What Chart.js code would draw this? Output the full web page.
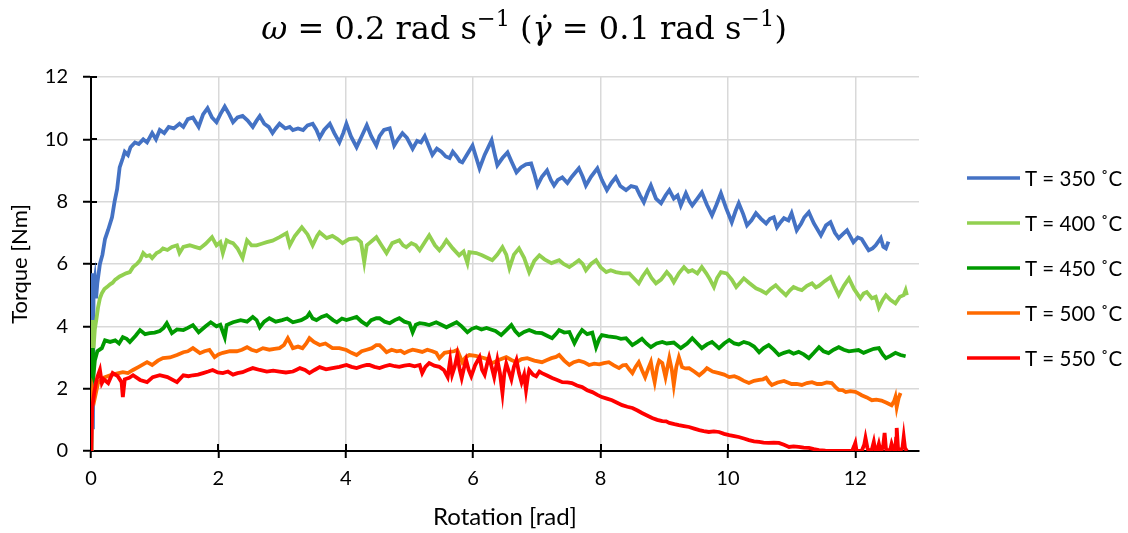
<!DOCTYPE html>
<html>
<head>
<meta charset="utf-8">
<script src="https://cdn.jsdelivr.net/npm/chart.js@4.4.1/dist/chart.umd.min.js"></script>
<style>
    body { margin: 0; background: #fff; }
    #caixa { position: relative; width: 1128px; height: 533px; }
    #titulo {
        position: absolute; left: -40px; top: 9px; width: 1128px;
        text-align: center; font-family: "DejaVu Serif", serif; font-size: 32px; color: #000;
    }
    #titulo sup { font-size: 0.7em; vertical-align: 0.6em; line-height: 0; }
</style>
</head>
<body>
<div id="caixa">
    <canvas id="graficoTorque" width="1128" height="533"></canvas>
    <div id="titulo"><i>ω</i> = 0.2 rad s<sup>−1</sup> (<i>γ̇</i> = 0.1 rad s<sup>−1</sup>)</div>
</div>
<script>
// Torque [Nm] x rotação [rad], um ensaio por temperatura
const temperaturas = [350, 400, 450, 500, 550];
const cores = ['#4472C4', '#92D050', '#009A00', '#FF6A00', '#FF0000'];

const torque350 = [
    [0,0],[0.01,3.0],[0.02,5.7],[0.03,0.7],[0.04,5.2],[0.06,5.5],[0.08,4.9],[0.10,5.4],[0.14,6.0],[0.18,6.3],
    [0.22,6.8],[0.27,7.1],[0.33,7.5],[0.37,8.0],[0.41,8.4],[0.45,9.1],[0.50,9.4],[0.53,9.6],[0.58,9.5],[0.62,9.75],
    [0.69,9.9],[0.75,9.85],[0.82,10.0],[0.88,9.9],[0.96,10.2],[1.02,10.0],[1.08,10.3],[1.15,10.2],[1.22,10.4],[1.30,10.35],
    [1.39,10.5],[1.45,10.4],[1.52,10.65],[1.60,10.7],[1.69,10.4],[1.76,10.8],[1.83,11.0],[1.90,10.7],[1.97,10.55],[2.03,10.8],
    [2.10,11.05],[2.17,10.8],[2.23,10.55],[2.30,10.7],[2.38,10.75],[2.46,10.6],[2.54,10.4],[2.60,10.6],[2.65,10.75],[2.72,10.5],
    [2.79,10.4],[2.85,10.2],[2.90,10.35],[2.96,10.5],[3.05,10.35],[3.12,10.4],[3.17,10.3],[3.25,10.35],[3.33,10.3],[3.40,10.45],
    [3.48,10.5],[3.54,10.3],[3.59,10.05],[3.66,10.3],[3.75,10.5],[3.82,10.2],[3.90,9.9],[3.96,10.2],[4.01,10.5],[4.08,10.1],
    [4.17,9.75],[4.25,10.1],[4.33,10.45],[4.40,10.1],[4.48,9.8],[4.53,10.1],[4.60,10.3],[4.69,10.35],[4.76,9.8],[4.82,10.0],
    [4.89,10.2],[4.96,10.05],[5.05,9.7],[5.12,9.95],[5.18,9.9],[5.24,10.1],[5.30,9.8],[5.36,9.5],[5.43,9.7],[5.50,9.6],
    [5.57,9.45],[5.63,9.4],[5.68,9.6],[5.74,9.45],[5.79,9.3],[5.83,9.26],[5.90,9.5],[5.99,9.8],[6.05,9.4],[6.10,9.07],
    [6.18,9.5],[6.25,9.8],[6.29,9.97],[6.33,9.6],[6.38,9.17],[6.46,9.4],[6.54,9.58],[6.60,9.3],[6.68,8.94],[6.75,9.1],
    [6.83,9.2],[6.91,9.23],[6.96,8.9],[7.01,8.52],[7.08,8.8],[7.16,9.0],[7.22,8.7],[7.27,8.52],[7.33,8.7],[7.40,8.78],
    [7.48,8.6],[7.55,8.8],[7.66,9.07],[7.72,8.8],[7.77,8.52],[7.85,8.8],[7.95,9.07],[8.02,8.7],[8.10,8.37],[8.17,8.6],
    [8.24,8.78],[8.31,8.5],[8.40,8.37],[8.48,8.5],[8.56,8.46],[8.62,8.2],[8.68,7.98],[8.74,8.3],[8.79,8.52],[8.87,8.1],
    [8.95,7.95],[9.02,8.2],[9.08,8.37],[9.15,8.1],[9.21,8.2],[9.26,7.88],[9.34,8.27],[9.40,8.0],[9.44,7.88],[9.52,8.1],
    [9.59,8.3],[9.67,7.9],[9.75,7.56],[9.82,7.9],[9.89,8.27],[9.97,7.8],[10.06,7.34],[10.12,7.7],[10.17,7.95],[10.24,7.6],
    [10.30,7.24],[10.37,7.4],[10.44,7.63],[10.52,7.45],[10.60,7.3],[10.66,7.45],[10.72,7.5],[10.77,7.18],[10.83,7.35],[10.88,7.47],
    [10.95,7.4],[11.00,7.63],[11.08,7.08],[11.15,7.3],[11.20,7.5],[11.27,7.66],[11.35,7.3],[11.46,6.92],[11.54,7.24],[11.61,7.34],
    [11.68,7.0],[11.74,6.83],[11.80,6.95],[11.87,7.08],[11.97,6.7],[12.04,6.85],[12.10,6.8],[12.16,6.6],[12.21,6.44],[12.27,6.5],
    [12.32,6.6],[12.40,6.83],[12.44,6.55],[12.48,6.5],[12.52,6.72]
];

const torque400 = [
    [0,1.5],[0.02,4.2],[0.04,3.3],[0.06,3.9],[0.09,4.3],[0.11,4.6],[0.14,4.9],[0.17,5.06],[0.21,5.2],[0.25,5.26],
    [0.30,5.35],[0.34,5.4],[0.38,5.5],[0.41,5.54],[0.45,5.6],[0.49,5.64],[0.55,5.7],[0.61,5.74],[0.66,5.9],[0.72,6.0],
    [0.77,6.12],[0.82,6.35],[0.87,6.25],[0.92,6.28],[0.96,6.19],[1.03,6.35],[1.08,6.4],[1.13,6.5],[1.20,6.45],[1.27,6.55],
    [1.35,6.6],[1.39,6.35],[1.45,6.55],[1.55,6.6],[1.63,6.55],[1.71,6.5],[1.80,6.65],[1.90,6.86],[1.97,6.6],[2.03,6.7],
    [2.07,6.35],[2.13,6.76],[2.18,6.7],[2.23,6.67],[2.30,6.5],[2.38,6.19],[2.45,6.76],[2.52,6.6],[2.60,6.6],[2.68,6.65],
    [2.76,6.7],[2.85,6.75],[2.96,6.86],[3.07,6.99],[3.12,6.6],[3.20,6.9],[3.31,7.18],[3.40,6.95],[3.48,6.6],[3.55,6.9],
    [3.59,7.02],[3.70,6.83],[3.79,6.9],[3.87,6.8],[3.95,6.67],[4.05,6.8],[4.17,6.83],[4.24,6.7],[4.29,6.06],[4.33,6.6],
    [4.37,6.67],[4.48,6.86],[4.56,6.6],[4.64,6.35],[4.73,6.67],[4.84,6.76],[4.90,6.6],[4.95,6.54],[5.03,6.67],[5.10,6.6],
    [5.16,6.44],[5.24,6.7],[5.31,6.92],[5.40,6.6],[5.47,6.44],[5.53,6.6],[5.58,6.76],[5.68,6.5],[5.78,6.28],[5.85,6.4],
    [5.91,6.03],[5.94,6.38],[6.05,6.35],[6.14,6.28],[6.22,6.2],[6.30,6.12],[6.38,6.3],[6.46,6.54],[6.52,6.3],[6.57,5.87],
    [6.64,6.3],[6.72,6.5],[6.80,6.2],[6.88,5.74],[6.96,6.1],[7.04,6.28],[7.12,6.15],[7.23,6.03],[7.35,6.12],[7.42,6.0],
    [7.51,5.9],[7.58,6.0],[7.66,6.12],[7.72,6.0],[7.77,5.8],[7.85,6.0],[7.93,6.12],[8.00,5.9],[8.09,5.74],[8.16,5.8],
    [8.24,5.74],[8.35,5.7],[8.45,5.7],[8.52,5.55],[8.60,5.38],[8.66,5.6],[8.73,5.8],[8.80,5.55],[8.87,5.38],[8.95,5.5],
    [9.04,5.74],[9.10,5.6],[9.15,5.42],[9.23,5.7],[9.31,5.9],[9.38,5.75],[9.44,5.8],[9.52,5.7],[9.59,5.9],[9.66,5.7],
    [9.72,5.5],[9.78,5.26],[9.83,5.55],[9.89,5.74],[9.98,5.7],[10.06,5.5],[10.13,5.26],[10.19,5.4],[10.25,5.54],[10.33,5.4],
    [10.44,5.22],[10.52,5.15],[10.60,5.06],[10.67,5.2],[10.75,5.32],[10.83,5.15],[10.91,5.0],[10.97,5.15],[11.03,5.26],[11.10,5.2],
    [11.16,5.16],[11.24,5.3],[11.32,5.38],[11.38,5.25],[11.43,5.3],[11.52,5.45],[11.61,5.58],[11.67,5.3],[11.74,5.0],[11.82,5.3],
    [11.90,5.54],[11.98,5.2],[12.08,4.9],[12.13,5.05],[12.18,5.1],[12.26,4.9],[12.32,4.95],[12.37,4.6],[12.43,4.85],[12.48,5.0],
    [12.55,4.85],[12.63,4.74],[12.70,4.95],[12.76,5.0],[12.79,5.16],[12.81,5.0]
];

const torque450 = [
    [0,0.5],[0.02,3.3],[0.03,2.2],[0.06,2.9],[0.10,3.2],[0.17,3.3],[0.22,3.55],[0.30,3.5],[0.38,3.55],[0.44,3.45],
    [0.50,3.65],[0.56,3.6],[0.61,3.5],[0.70,3.7],[0.77,3.88],[0.85,3.75],[0.92,3.78],[1.00,3.8],[1.08,3.85],[1.14,3.95],
    [1.19,4.1],[1.27,3.78],[1.35,3.9],[1.45,3.88],[1.52,3.95],[1.60,4.04],[1.69,3.81],[1.80,4.0],[1.88,4.13],[1.97,4.0],
    [2.03,4.05],[2.10,3.65],[2.13,4.04],[2.23,4.13],[2.35,4.2],[2.45,4.15],[2.54,4.3],[2.60,4.2],[2.65,3.97],[2.72,4.15],
    [2.80,4.26],[2.90,4.15],[3.00,4.2],[3.08,4.25],[3.17,4.13],[3.30,4.2],[3.39,4.3],[3.43,4.42],[3.48,4.25],[3.54,4.2],
    [3.62,4.3],[3.70,4.36],[3.80,4.2],[3.86,4.13],[3.94,4.25],[4.01,4.2],[4.09,4.25],[4.17,4.3],[4.25,4.15],[4.33,4.04],
    [4.40,4.2],[4.48,4.26],[4.53,4.26],[4.61,4.15],[4.69,4.1],[4.77,4.2],[4.84,4.26],[4.92,4.15],[5.00,4.1],[5.05,3.81],
    [5.10,4.05],[5.16,4.1],[5.24,4.08],[5.31,4.04],[5.42,4.13],[5.50,4.05],[5.58,3.97],[5.66,4.05],[5.74,4.13],[5.82,4.0],
    [5.91,3.81],[5.98,3.92],[6.05,3.97],[6.13,3.9],[6.21,3.95],[6.28,3.9],[6.35,3.85],[6.44,3.72],[6.52,3.88],[6.60,4.04],
    [6.66,3.85],[6.72,3.72],[6.80,3.82],[6.88,3.88],[6.98,3.8],[7.08,3.78],[7.16,3.7],[7.24,3.62],[7.30,3.75],[7.35,3.88],
    [7.43,3.8],[7.51,3.82],[7.59,3.46],[7.65,3.7],[7.71,3.88],[7.79,3.75],[7.87,3.8],[7.93,3.33],[7.98,3.6],[8.02,3.72],
    [8.12,3.68],[8.24,3.65],[8.32,3.6],[8.40,3.62],[8.50,3.4],[8.58,3.5],[8.65,3.6],[8.72,3.45],[8.79,3.33],[8.88,3.45],
    [8.97,3.5],[9.04,3.45],[9.15,3.48],[9.26,3.3],[9.36,3.45],[9.44,3.62],[9.52,3.45],[9.59,3.3],[9.67,3.42],[9.75,3.5],
    [9.86,3.3],[9.94,3.45],[10.02,3.56],[10.10,3.45],[10.17,3.42],[10.25,3.5],[10.33,3.45],[10.41,3.35],[10.49,3.17],[10.56,3.3],
    [10.64,3.4],[10.72,3.25],[10.80,3.08],[10.88,3.15],[10.96,3.2],[11.03,3.12],[11.11,3.18],[11.19,3.1],[11.27,2.98],[11.35,3.15],
    [11.43,3.33],[11.50,3.2],[11.58,3.14],[11.66,3.25],[11.74,3.33],[11.82,3.25],[11.90,3.2],[11.98,3.22],[12.05,3.24],[12.13,3.15],
    [12.21,3.22],[12.29,3.28],[12.37,3.3],[12.43,3.1],[12.48,2.98],[12.55,3.05],[12.63,3.15],[12.71,3.08],[12.79,3.04]
];

const torque500 = [
    [0,0],[0.01,1.2],[0.03,1.95],[0.06,1.7],[0.11,2.18],[0.20,2.35],[0.30,2.43],[0.40,2.48],[0.50,2.53],[0.58,2.5],
    [0.66,2.6],[0.75,2.7],[0.88,2.85],[0.96,2.76],[1.05,2.9],[1.13,2.98],[1.24,3.0],[1.35,3.08],[1.45,3.17],[1.52,3.2],
    [1.60,3.3],[1.71,3.14],[1.78,3.2],[1.86,3.24],[1.94,3.01],[2.00,3.1],[2.07,3.15],[2.18,3.2],[2.29,3.2],[2.37,3.25],
    [2.45,3.33],[2.52,3.25],[2.60,3.2],[2.70,3.3],[2.80,3.25],[2.88,3.28],[2.96,3.3],[3.03,3.4],[3.09,3.62],[3.17,3.3],
    [3.25,3.35],[3.32,3.3],[3.38,3.45],[3.43,3.62],[3.50,3.5],[3.59,3.4],[3.68,3.45],[3.79,3.3],[3.90,3.3],[4.01,3.24],
    [4.09,3.15],[4.17,3.08],[4.25,3.2],[4.33,3.25],[4.41,3.3],[4.48,3.4],[4.53,3.4],[4.58,3.3],[4.64,3.17],[4.72,3.25],
    [4.80,3.2],[4.86,3.22],[4.92,3.14],[4.98,3.2],[5.05,3.25],[5.12,3.22],[5.20,3.18],[5.28,3.25],[5.36,3.2],[5.42,3.15],
    [5.47,2.98],[5.55,3.15],[5.63,3.18],[5.70,3.2],[5.75,3.24],[5.83,2.85],[5.88,3.0],[5.94,3.08],[6.04,3.05],[6.14,3.0],
    [6.22,2.95],[6.30,2.82],[6.40,2.92],[6.52,3.01],[6.60,2.92],[6.68,2.85],[6.76,2.95],[6.85,2.98],[6.96,2.9],[7.08,2.85],
    [7.16,2.92],[7.23,2.98],[7.30,3.02],[7.35,3.08],[7.43,2.9],[7.51,2.76],[7.58,2.85],[7.66,2.9],[7.74,2.85],[7.82,2.76],
    [7.90,2.8],[7.98,2.78],[8.05,2.82],[8.13,2.85],[8.21,2.75],[8.29,2.66],[8.35,2.75],[8.40,2.76],[8.45,2.62],[8.50,2.5],
    [8.55,2.7],[8.60,2.85],[8.65,2.6],[8.70,2.37],[8.75,2.65],[8.79,2.85],[8.82,2.5],[8.85,2.21],[8.89,2.7],[8.92,2.9],
    [8.97,2.82],[9.02,2.37],[9.08,2.98],[9.12,2.6],[9.15,2.12],[9.19,2.7],[9.23,3.01],[9.28,2.69],[9.33,2.65],[9.39,2.66],
    [9.47,2.55],[9.55,2.43],[9.62,2.55],[9.67,2.66],[9.76,2.55],[9.86,2.5],[9.94,2.45],[10.02,2.37],[10.10,2.4],[10.17,2.34],
    [10.25,2.25],[10.33,2.18],[10.41,2.25],[10.49,2.28],[10.55,2.3],[10.60,2.35],[10.65,2.2],[10.69,2.12],[10.78,2.2],[10.88,2.25],
    [10.94,2.2],[11.00,2.15],[11.08,2.15],[11.16,2.12],[11.24,2.18],[11.32,2.21],[11.40,2.15],[11.47,2.15],[11.55,2.2],[11.63,2.18],
    [11.69,2.05],[11.74,1.96],[11.80,1.95],[11.85,1.89],[11.92,1.92],[12.00,1.9],[12.05,1.85],[12.10,1.79],[12.18,1.72],[12.26,1.63],
    [12.33,1.65],[12.41,1.62],[12.49,1.55],[12.57,1.47],[12.61,1.6],[12.63,1.73],[12.65,1.41],[12.68,1.7],[12.71,1.86]
];

const torque550 = [
    [0,0],[0.02,1.4],[0.05,1.86],[0.08,2.2],[0.10,2.37],[0.14,2.6],[0.17,2.18],[0.20,2.3],[0.27,2.18],[0.34,2.5],
    [0.42,2.4],[0.48,2.21],[0.50,1.73],[0.53,2.3],[0.60,2.35],[0.66,2.43],[0.77,2.28],[0.88,2.21],[0.97,2.37],[1.08,2.43],
    [1.20,2.37],[1.35,2.21],[1.45,2.43],[1.53,2.4],[1.60,2.43],[1.68,2.45],[1.76,2.5],[1.84,2.55],[1.91,2.6],[1.99,2.52],
    [2.07,2.5],[2.15,2.55],[2.23,2.45],[2.30,2.5],[2.38,2.53],[2.46,2.6],[2.54,2.66],[2.65,2.6],[2.76,2.55],[2.86,2.58],
    [2.96,2.55],[3.06,2.52],[3.17,2.55],[3.22,2.6],[3.28,2.66],[3.36,2.6],[3.43,2.5],[3.51,2.6],[3.59,2.69],[3.69,2.62],
    [3.79,2.66],[3.90,2.7],[4.01,2.76],[4.09,2.7],[4.17,2.66],[4.25,2.72],[4.33,2.76],[4.37,2.76],[4.45,2.7],[4.53,2.66],
    [4.61,2.72],[4.69,2.76],[4.77,2.72],[4.84,2.7],[4.92,2.74],[5.00,2.76],[5.08,2.72],[5.16,2.76],[5.20,2.5],[5.25,2.7],
    [5.31,2.82],[5.39,2.74],[5.47,2.7],[5.54,2.6],[5.60,2.37],[5.64,2.92],[5.67,2.45],[5.71,2.7],[5.75,3.08],[5.79,2.6],
    [5.82,2.34],[5.86,2.7],[5.89,2.92],[5.93,2.6],[5.97,2.4],[6.03,2.75],[6.10,3.01],[6.14,2.6],[6.18,2.45],[6.22,2.8],
    [6.25,3.01],[6.29,2.7],[6.33,2.37],[6.36,2.7],[6.38,2.92],[6.42,2.5],[6.46,1.86],[6.49,2.5],[6.52,2.8],[6.56,2.55],
    [6.60,2.3],[6.64,2.7],[6.68,2.92],[6.72,2.5],[6.76,2.2],[6.80,2.45],[6.83,1.96],[6.86,2.4],[6.88,2.6],[6.94,2.45],
    [6.99,2.4],[7.04,2.55],[7.08,2.5],[7.16,2.42],[7.24,2.34],[7.32,2.28],[7.40,2.21],[7.48,2.2],[7.55,2.18],[7.63,2.1],
    [7.71,2.05],[7.79,1.95],[7.87,1.89],[7.95,1.8],[8.02,1.73],[8.10,1.68],[8.18,1.63],[8.26,1.55],[8.34,1.47],[8.42,1.42],
    [8.50,1.38],[8.58,1.3],[8.65,1.22],[8.73,1.14],[8.81,1.06],[8.89,1.0],[8.97,0.96],[9.03,0.95],[9.08,0.9],[9.16,0.86],
    [9.23,0.83],[9.31,0.8],[9.39,0.77],[9.47,0.72],[9.55,0.67],[9.62,0.64],[9.70,0.61],[9.78,0.63],[9.86,0.61],[9.94,0.55],
    [10.02,0.51],[10.10,0.48],[10.17,0.45],[10.25,0.4],[10.33,0.35],[10.41,0.31],[10.49,0.29],[10.56,0.27],[10.64,0.26],[10.72,0.27],
    [10.80,0.26],[10.88,0.2],[10.96,0.13],[11.03,0.15],[11.11,0.13],[11.19,0.11],[11.27,0.10],[11.35,0.06],[11.43,0.03],[11.53,0.01],
    [11.63,0],[11.75,0],[11.85,0],[11.95,0],[11.98,0.15],[12.00,0.26],[12.02,0],[12.10,0],[12.14,0.2],[12.16,0.42],
    [12.19,0.1],[12.21,0],[12.26,0.05],[12.29,0.29],[12.31,0.05],[12.34,0],[12.37,0.23],[12.39,0.05],[12.41,0],[12.44,0.2],
    [12.46,0.58],[12.48,0.1],[12.49,0],[12.55,0.05],[12.57,0.23],[12.60,0.05],[12.63,0],[12.64,0.4],[12.65,0.74],[12.67,0.1],
    [12.70,0],[12.74,0.1],[12.76,0.45],[12.78,0.1],[12.81,0]
];

const series = [torque350, torque400, torque450, torque500, torque550];

// legenda ao lado do gráfico, uma linha curta por temperatura
const legendaLateral = {
    id: 'legendaLateral',
    afterDraw(chart) {
        const ctx = chart.ctx;
        ctx.save();
        ctx.font = '20.5px Lato';
        ctx.textBaseline = 'middle';
        ctx.textAlign = 'left';
        chart.data.datasets.forEach((dataset, i) => {
            let y = 178 + i * 45;
            ctx.strokeStyle = dataset.borderColor;
            ctx.lineWidth = 3.5;
            ctx.beginPath();
            ctx.moveTo(967, y);
            ctx.lineTo(1020, y);
            ctx.stroke();
            ctx.fillStyle = '#000';
            ctx.fillText(dataset.label, 1025, y + 1);
        });
        ctx.restore();
    }
};

// metade interna das marcas dos eixos (as marcas cruzam o eixo)
const marcasInternas = {
    id: 'marcasInternas',
    beforeDatasetsDraw(chart) {
        const { ctx, chartArea } = chart;
        const x = chart.scales.x;
        const y = chart.scales.y;
        ctx.save();
        ctx.strokeStyle = '#000';
        ctx.lineWidth = 2;
        x.ticks.forEach(t => {
            let px = Math.round(x.getPixelForValue(t.value));
            ctx.beginPath();
            ctx.moveTo(px, chartArea.bottom);
            ctx.lineTo(px, chartArea.bottom - 7);
            ctx.stroke();
        });
        y.ticks.forEach(t => {
            let py = Math.round(y.getPixelForValue(t.value));
            ctx.beginPath();
            ctx.moveTo(chartArea.left, py);
            ctx.lineTo(chartArea.left + 6, py);
            ctx.stroke();
        });
        ctx.restore();
    }
};

const fonteEixo = { family: 'Lato', size: 20 };

const graficoTorque = new Chart(document.getElementById('graficoTorque'), {
    type: 'line',
    data: {
        datasets: series.map((dados, i) => ({
            label: `T = ${temperaturas[i]} ˚C`,
            data: dados,
            borderColor: cores[i],
            backgroundColor: cores[i],
            borderWidth: 3.8,
            pointRadius: 0,
            tension: 0,
            order: series.length - i
        }))
    },
    options: {
        responsive: false,
        animation: false,
        layout: { padding: { top: 77, right: 209, bottom: 0, left: 0 } },
        plugins: {
            legend: { display: false },
            tooltip: { enabled: false }
        },
        scales: {
            x: {
                type: 'linear',
                min: 0,
                max: 13,
                afterFit: s => { s.height = 82; },
                ticks: { stepSize: 2, includeBounds: false, color: '#000', font: fonteEixo, padding: 9, maxRotation: 0 },
                grid: { color: '#d9d9d9', lineWidth: 1.5, tickLength: 7, tickColor: '#000', tickWidth: 2 },
                border: { color: '#000', width: 2 },
                title: { display: true, text: 'Rotation [rad]', color: '#000', font: { family: 'Lato', size: 24 }, padding: { top: 2, bottom: 1 } }
            },
            y: {
                type: 'linear',
                min: 0,
                max: 12,
                afterFit: s => { s.width = 91; },
                ticks: { stepSize: 2, color: '#000', font: fonteEixo, padding: 15 },
                grid: { color: '#d9d9d9', lineWidth: 1.5, tickLength: 8, tickColor: '#000', tickWidth: 2 },
                border: { color: '#000', width: 2 },
                title: { display: true, text: 'Torque [Nm]', color: '#000', font: { family: 'Lato', size: 22 }, padding: { top: 7, bottom: 0 } }
            }
        }
    },
    plugins: [marcasInternas, legendaLateral]
});
</script>
</body>
</html>
